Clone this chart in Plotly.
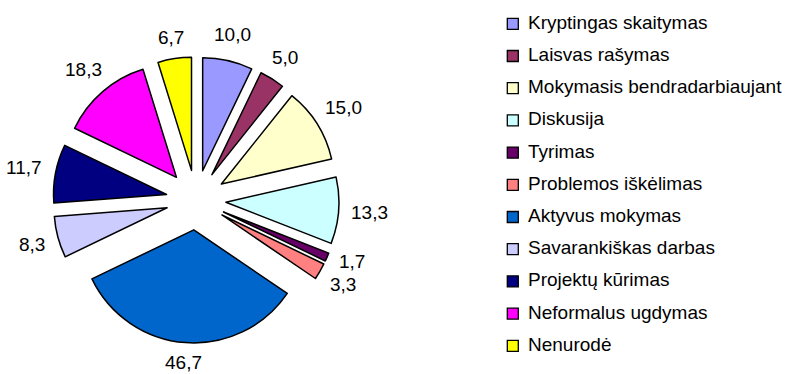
import math
import plotly.graph_objects as go

# Mokymo metodai (reikšmės kaip lentelėje)
categories = [
    "Kryptingas skaitymas",
    "Laisvas rašymas",
    "Mokymasis bendradarbiaujant",
    "Diskusija",
    "Tyrimas",
    "Problemos iškėlimas",
    "Aktyvus mokymas",
    "Savarankiškas darbas",
    "Projektų kūrimas",
    "Neformalus ugdymas",
    "Nenurodė",
]
values = [10.0, 5.0, 15.0, 13.3, 1.7, 3.3, 46.7, 8.3, 11.7, 18.3, 6.7]
colors = [
    "#9999FF", "#993366", "#FFFFCC", "#CCFFFF", "#660066", "#FF8080",
    "#0066CC", "#CCCCFF", "#000080", "#FF00FF", "#FFFF00",
]

W, H = 799, 374
FONT = "Liberation Sans, Arial, sans-serif"
FS = 19

value_text = [f"{v:.1f}".replace(".", ",") for v in values]

# pie centre and outer extent in pixels
cx, cy, half = 196, 200, 143

fig = go.Figure(
    go.Pie(
        labels=categories,
        values=values,
        textinfo="none",
        sort=False,
        direction="clockwise",
        rotation=0,
        pull=0.265,
        marker=dict(colors=colors, line=dict(color="#000000", width=1.5)),
        domain=dict(
            x=[(cx - half) / W, (cx + half) / W],
            y=[(H - cy - half) / H, (H - cy + half) / H],
        ),
        showlegend=False,
        automargin=False,
    )
)

annotations, shapes = [], []

# value labels: text box sits a fixed gap beyond the exploded arc,
# along the slice's mid angle
total = sum(values)
base_r = 155
half_h = 7
min_gap = 23
pos = []
cum = 0.0
for v, txt in zip(values, value_text):
    mid = (cum + v / 2) / total * 2 * math.pi
    cum += v
    half_w = (sum(ch.isdigit() for ch in txt) * 10.6 + 5.3) / 2
    s, c = math.sin(mid), math.cos(mid)
    r = base_r + abs(s) * half_w + abs(c) * half_h
    pos.append([cx + r * s, cy - r * c, s >= 0])

# on the right-hand side, lift a label that crowds the one below it
for i in range(len(pos) - 2, -1, -1):
    a, b = pos[i], pos[i + 1]
    if a[2] and b[2] and b[1] > a[1] and b[1] - a[1] < min_gap:
        a[1] = b[1] - min_gap

for (px, py, _), txt in zip(pos, value_text):
    annotations.append(dict(
        text=txt, xref="paper", yref="paper",
        x=px / W, y=(H - py) / H, xanchor="center", yanchor="middle",
        showarrow=False, borderpad=0,
        font=dict(family=FONT, size=FS, color="#000000"),
    ))

# legend drawn as square swatches with labels
lx, ly0, step, sq = 512.8, 23.8, 32.2, 11
for i, (name, col) in enumerate(zip(categories, colors)):
    yc = ly0 + i * step
    shapes.append(dict(
        type="rect", xref="paper", yref="paper",
        x0=(lx - sq / 2) / W, x1=(lx + sq / 2) / W,
        y0=(H - yc - sq / 2) / H, y1=(H - yc + sq / 2) / H,
        fillcolor=col, line=dict(color="#000000", width=1.3),
    ))
    annotations.append(dict(
        text=name, xref="paper", yref="paper",
        x=526 / W, y=(H - yc + 1.5) / H, xanchor="left", yanchor="middle",
        showarrow=False, font=dict(family=FONT, size=FS, color="#000000"),
    ))

fig.update_layout(
    width=W, height=H,
    margin=dict(l=0, r=0, t=0, b=0),
    paper_bgcolor="white", plot_bgcolor="white",
    shapes=shapes, annotations=annotations,
)

fig.write_html("out.html")
